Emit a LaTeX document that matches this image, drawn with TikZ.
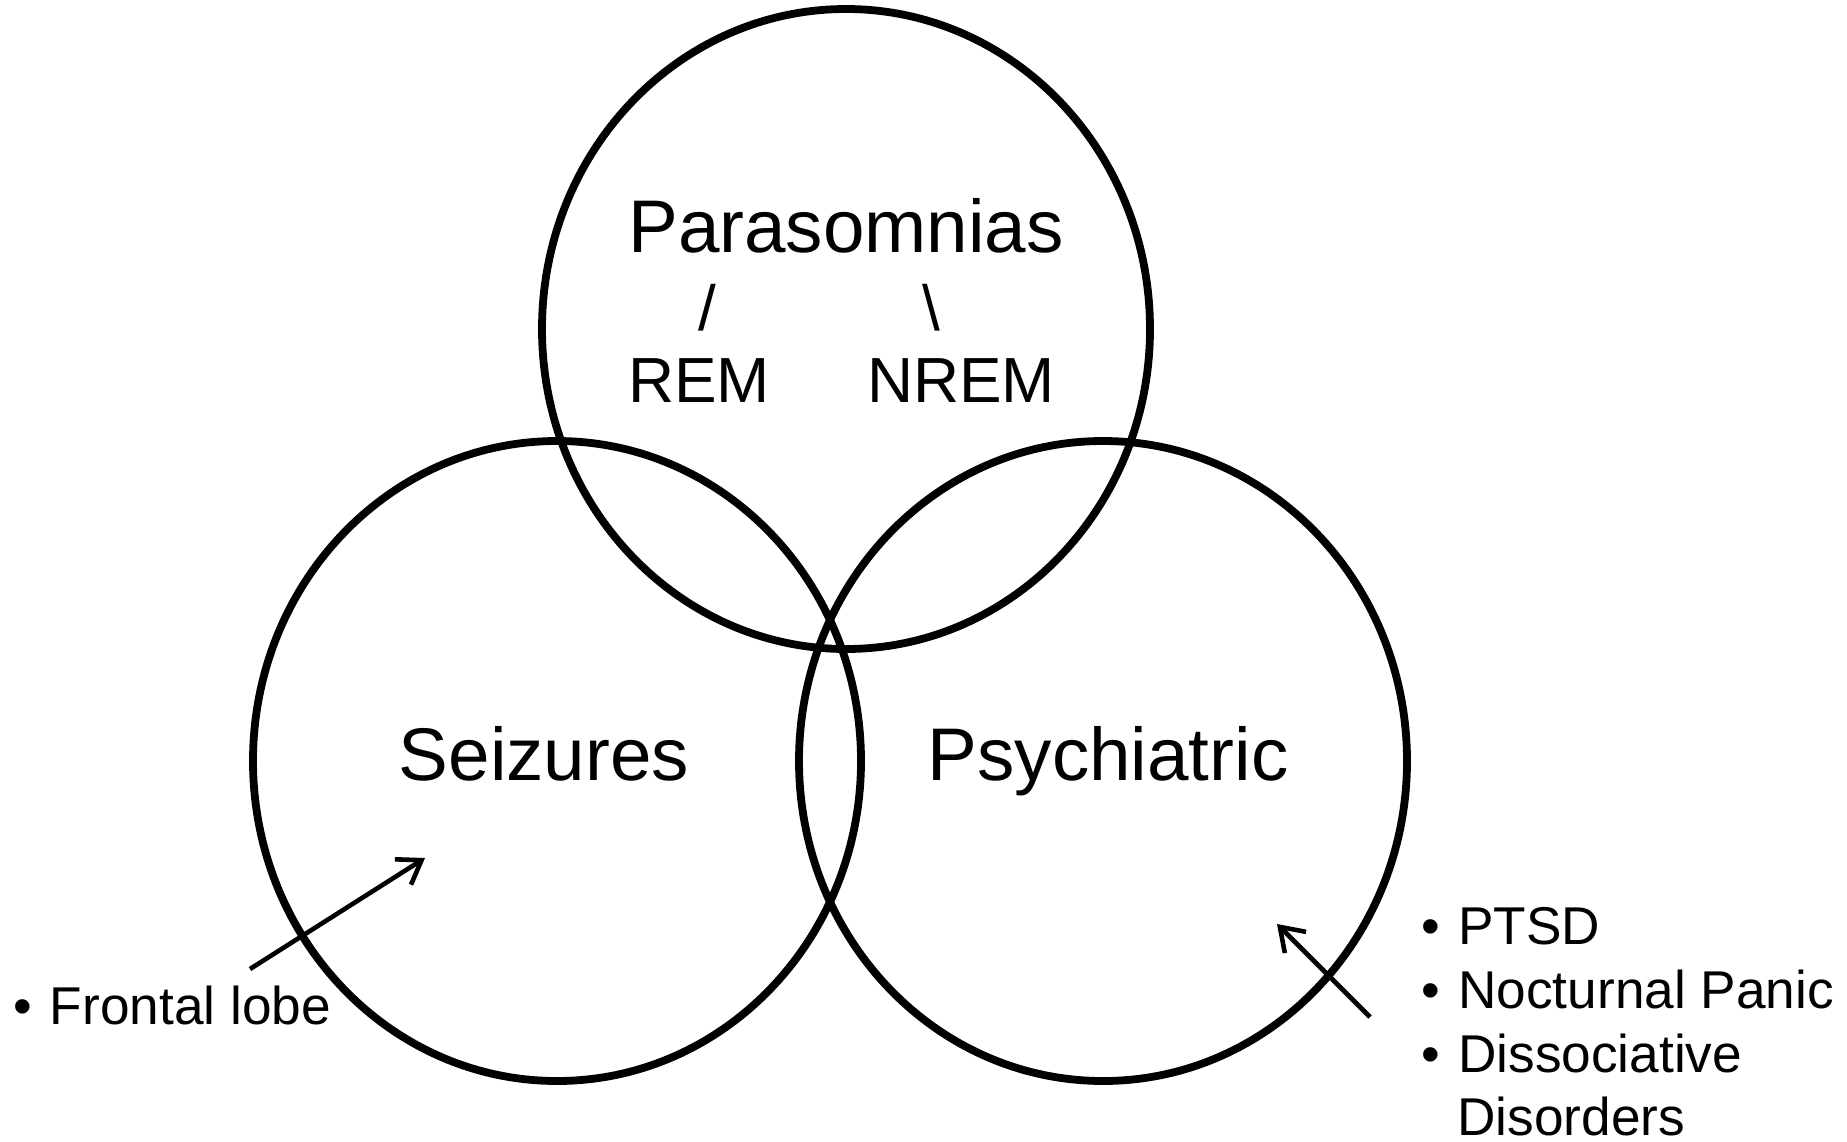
\documentclass[tikz,border=0pt]{standalone}
\usepackage{fontspec}
\setmainfont{Liberation Sans}
\usetikzlibrary{arrows.meta}
\newcommand\bulbox{\makebox[18.25pt][l]{•}}
\begin{document}
\begin{tikzpicture}[x=0.5pt,y=-0.5pt,
  ring/.style={line width=3.9pt},
  bigtxt/.style={font=\fontsize{37.3}{44}\selectfont, inner sep=0pt, anchor=base},
  midtxt/.style={font=\fontsize{31.9}{38}\selectfont, inner sep=0pt, anchor=base},
  smalltxt/.style={font=\fontsize{26.6}{32}\selectfont, inner sep=0pt, anchor=base west},
  pointer/.style={line width=2.3pt, -{Straight Barb[length=11pt,width=15pt]}}]
\fill[white] (0,0) rectangle (1847,1141);
\useasboundingbox (0,0) rectangle (1847,1141);
% circles
\coordinate (ctop) at (846,329);
\coordinate (cleft) at (557,761);
\coordinate (cright) at (1103,761);
\draw[ring] (ctop) ellipse [x radius=152pt, y radius=160pt];
\draw[ring] (cleft) ellipse [x radius=152pt, y radius=160pt];
\draw[ring] (cright) ellipse [x radius=152pt, y radius=160pt];
% labels
\node[bigtxt] (para) at (846,252) {Parasomnias};
\node[midtxt] (sl1) at (707,330) {/};
\node[midtxt] (sl2) at (931,330) {\textbackslash};
\node[midtxt] (rem) at (699,402) {REM};
\node[midtxt] (nrem) at (961,402) {NREM};
\node[bigtxt] (seiz) at (544,780) {Seizures};
\node[bigtxt] (psy) at (1108,780) {Psychiatric};
\node[smalltxt] (front) at (13,1024) {\bulbox Frontal lobe};
\node[smalltxt] (ptsd) at (1421.5,944) {\bulbox PTSD};
\node[smalltxt] (panic) at (1421.5,1008) {\bulbox Nocturnal Panic};
\node[smalltxt] (diss) at (1421.5,1072) {\bulbox Dissociative};
\node[smalltxt] (disord) at (1457,1135) {Disorders};
% arrows
\coordinate (a1s) at (250,969);
\coordinate (a1e) at (425,858);
\coordinate (a2s) at (1370,1017);
\coordinate (a2e) at (1277,924);
\draw[pointer] (a1s) -- (a1e);
\draw[pointer] (a2s) -- (a2e);
\end{tikzpicture}
\end{document}
